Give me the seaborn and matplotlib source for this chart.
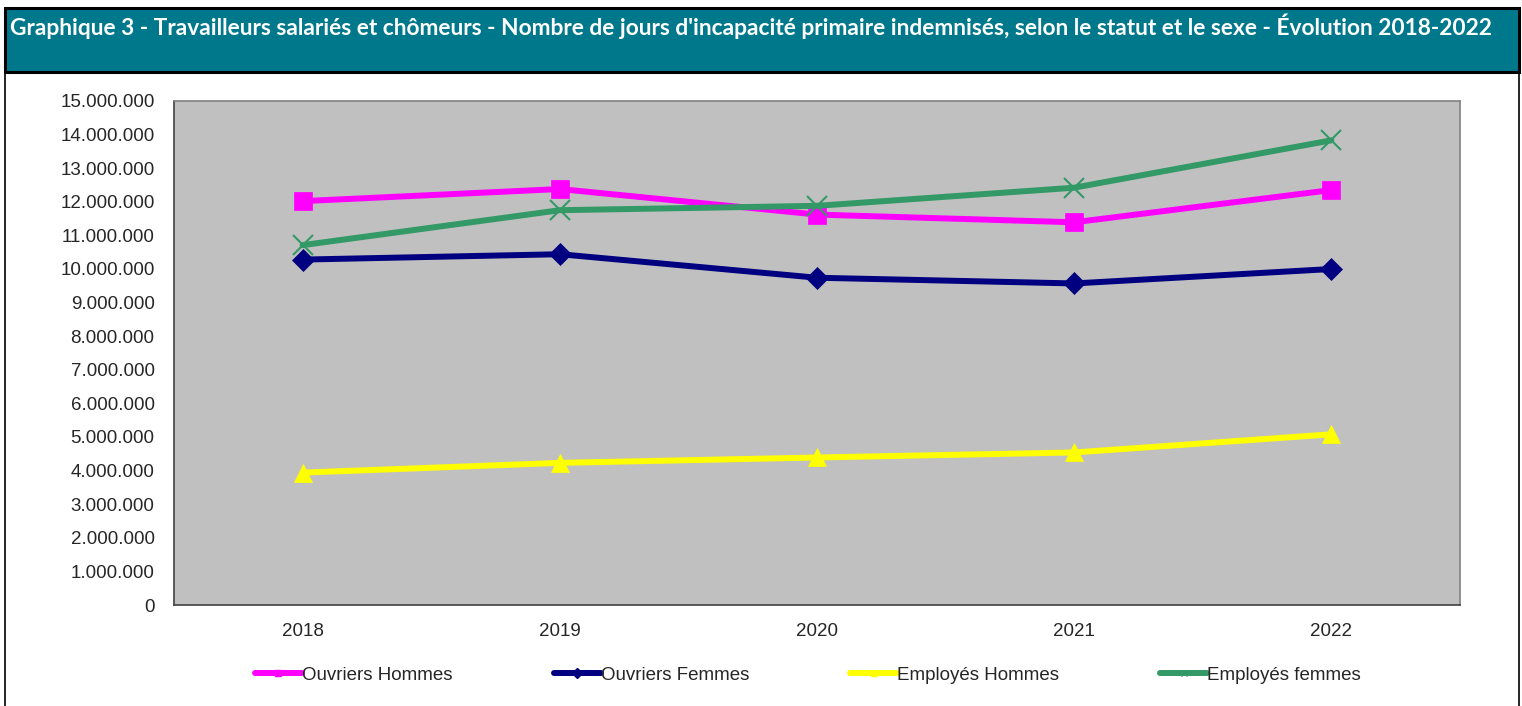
import numpy as np
import pandas as pd
import matplotlib
matplotlib.use("Agg")
import matplotlib.pyplot as plt
from matplotlib.patches import Rectangle
from matplotlib.lines import Line2D
from matplotlib.ticker import FuncFormatter, MultipleLocator
import seaborn as sns

# Data
years = ["2018", "2019", "2020", "2021", "2022"]
ouvriers_hommes = [12020000, 12380000, 11620000, 11390000, 12350000]
ouvriers_femmes = [10280000, 10440000, 9740000, 9570000, 10000000]
employes_hommes = [3940000, 4230000, 4390000, 4540000, 5080000]
employes_femmes = [10710000, 11750000, 11880000, 12420000, 13830000]

series_names = ["Ouvriers Hommes", "Ouvriers Femmes", "Employés Hommes", "Employés femmes"]
colors = ["#FF00FF", "#000080", "#FFFF00", "#339966"]
markers = ["s", "D", "^", "x"]
marker_sizes = [13, 11, 13, 15]

title = ("Graphique 3 - Travailleurs salariés et chômeurs - Nombre de jours d'incapacité "
         "primaire indemnisés, selon le statut et le sexe - Évolution 2018-2022")

df = pd.DataFrame({
    "pos": np.tile(np.arange(len(years)), 4),
    "valeur": ouvriers_hommes + ouvriers_femmes + employes_hommes + employes_femmes,
    "serie": np.repeat(series_names, len(years)),
})

sns.set_style("white")
plt.rcParams["font.family"] = ["Liberation Sans", "DejaVu Sans"]

fig = plt.figure(figsize=(15.22, 7.06), dpi=100)
W, H = 1522, 706

# title banner and outer frame
fig.patches.append(Rectangle((5 / W, 1 - 72 / H), 1514 / W, 64 / H, transform=fig.transFigure,
                             facecolor="#00788C", edgecolor="black", linewidth=2.2, zorder=-1))
fig.patches.append(Rectangle((5 / W, -0.05), 1514 / W, 1 - 72 / H + 0.05, transform=fig.transFigure,
                             facecolor="none", edgecolor="black", linewidth=1.2, zorder=-1))
fig.text(10 / W, 1 - 26 / H, title, color="white", fontsize=16.4, fontweight="bold",
         family=["Lato", "DejaVu Sans"], va="center", ha="left")

ax = fig.add_axes([174 / W, 1 - 605 / H, 1286 / W, 504 / H])
ax.set_facecolor("#C0C0C0")

for name, col, mk, ms in zip(series_names, colors, markers, marker_sizes):
    sub = df[df["serie"] == name]
    sns.lineplot(data=sub, x="pos", y="valeur", ax=ax, color=col, linewidth=4.3,
                 marker=mk, markersize=ms, markeredgecolor=col,
                 markeredgewidth=1.5 if mk == "x" else 0.5, legend=False)

ax.set_xlim(-0.5, len(years) - 0.5)
ax.set_ylim(0, 15000000)
ax.yaxis.set_major_locator(MultipleLocator(1000000))
ax.yaxis.set_major_formatter(FuncFormatter(lambda v, p: f"{int(v):,}".replace(",", ".")))
ax.set_xticks(range(len(years)))
ax.set_xticklabels(years)
ax.set_xticks(np.arange(-0.5, len(years)), minor=True)
ax.tick_params(axis="x", which="major", length=0, pad=13, labelsize=13.5)
ax.tick_params(axis="x", which="minor", length=5, width=1, color="#404040", direction="out")
ax.tick_params(axis="y", length=5, width=1, color="#404040", direction="out", labelsize=13.5, pad=9)
ax.set_xlabel("")
ax.set_ylabel("")
for side, sp in ax.spines.items():
    sp.set_visible(True)
    sp.set_color("#808080")
    sp.set_linewidth(1.2)
ax.spines["left"].set_color("#404040")
ax.spines["bottom"].set_color("#404040")

handles = [Line2D([0], [0], color=c, lw=4.3, marker=m, markersize=5, markeredgecolor=c)
           for c, m in zip(colors, markers)]
fig.legend(handles, series_names, loc="center", bbox_to_anchor=(808 / W, 1 - 675 / H),
           ncol=4, frameon=False, fontsize=13.5, handlelength=2.5, handletextpad=0.0,
           columnspacing=5.4)

fig.savefig("out.png", dpi=100)
